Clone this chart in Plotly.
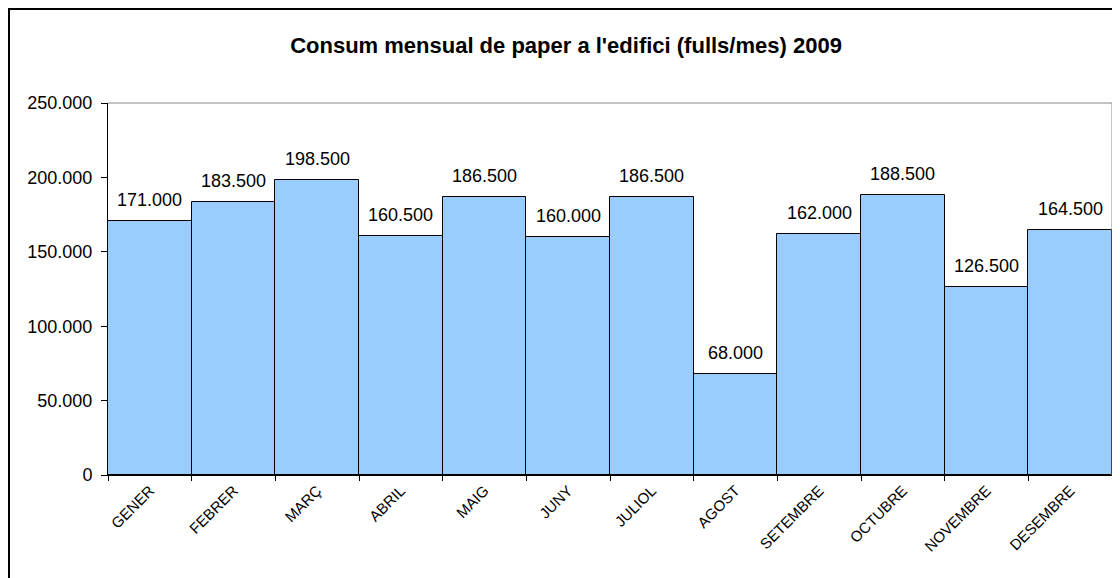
import plotly.graph_objects as go

months = ["GENER", "FEBRER", "MARÇ", "ABRIL", "MAIG", "JUNY", "JULIOL",
          "AGOST", "SETEMBRE", "OCTUBRE", "NOVEMBRE", "DESEMBRE"]
sheets = [171000, 183500, 198500, 160500, 186500, 160000, 186500,
          68000, 162000, 188500, 126500, 164500]
y_ticks = [0, 50000, 100000, 150000, 200000, 250000]
title = "Consum mensual de paper a l'edifici (fulls/mes) 2009"

FONT = "Arial, Liberation Sans, sans-serif"

W, H = 1112, 570
L, R, T, B = 100, 8, 95, 103
PW, PH = W - L - R, H - T - B

fig = go.Figure(go.Bar(
    x=months, y=sheets,
    marker=dict(color="#99CCFF", line=dict(color="black", width=1)),
    hoverinfo="x+y",
))

annotations = [
    dict(x=m, y=v, text=f"{v:,.0f}".replace(",", "."), showarrow=False,
         xref="x", yref="y", yanchor="middle", yshift=21,
         font=dict(family=FONT, size=18, color="black"))
    for m, v in zip(months, sheets)
]

fig.update_layout(
    width=W, height=H,
    separators=",.",
    paper_bgcolor="white", plot_bgcolor="white",
    margin=dict(l=L, r=R, t=T, b=B, autoexpand=False),
    bargap=0,
    showlegend=False,
    title=dict(text="<b>" + title + "</b>", x=558 / W, xanchor="center",
               y=1 - 37 / H, yanchor="middle",
               font=dict(family=FONT, size=22, color="black")),
    xaxis=dict(type="category", tickson="boundaries", ticks="outside",
               ticklen=5, tickcolor="black", tickangle=-45,
               showline=True, linecolor="black", linewidth=1,
               tickfont=dict(family=FONT, size=15, color="black"),
               showgrid=False, automargin=False),
    yaxis=dict(range=[0, 250000], tickvals=y_ticks, tickformat=",.0f",
               ticks="outside", ticklen=6, tickcolor="black",
               ticklabelstandoff=5,
               showline=True, linecolor="black", linewidth=1,
               tickfont=dict(family=FONT, size=18, color="black"),
               showgrid=False, zeroline=False, automargin=False),
    annotations=annotations,
    shapes=[
        dict(type="line", xref="x domain", yref="y domain", x0=0, x1=1, y0=1, y1=1,
             line=dict(color="#888888", width=1)),
        dict(type="line", xref="x domain", yref="y domain", x0=1, x1=1, y0=0, y1=1,
             line=dict(color="#888888", width=1)),
        dict(type="rect", xref="paper", yref="paper",
             x0=(1 - L) / PW, x1=1.2, y0=-0.5, y1=(H - B - 1) / PH,
             line=dict(color="black", width=2), fillcolor="rgba(0,0,0,0)",
             layer="below"),
    ],
)

fig.write_html("out.html")
